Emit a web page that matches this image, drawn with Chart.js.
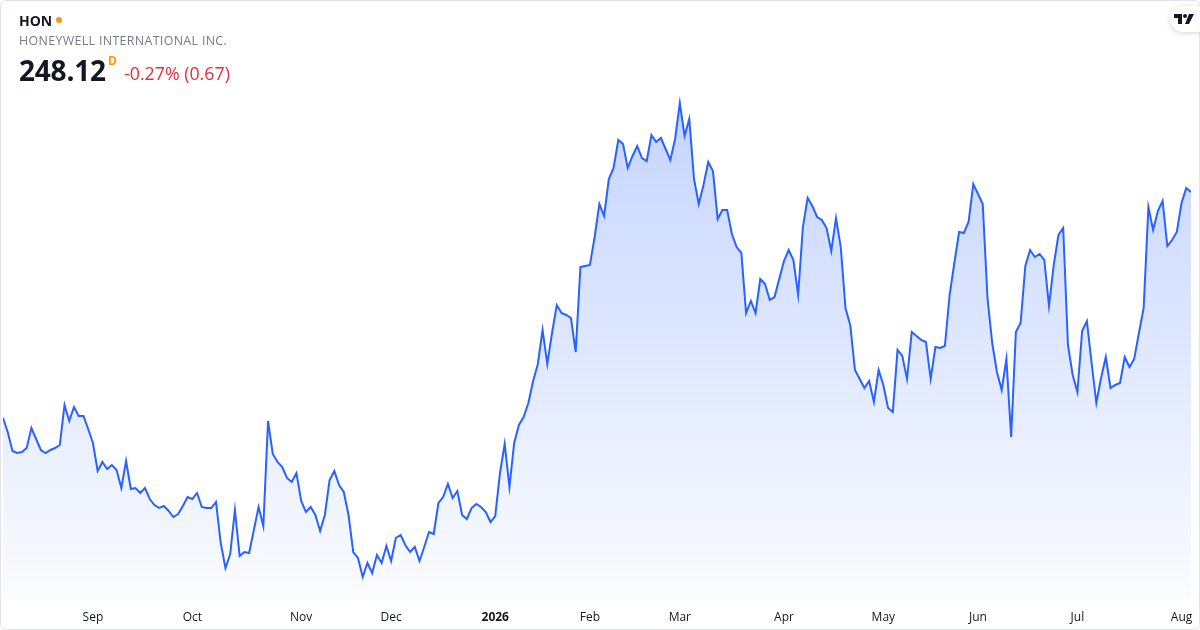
<!DOCTYPE html>
<html>
<head>
<meta charset="utf-8">
<script src="https://cdn.jsdelivr.net/npm/chart.js@4.4.1/dist/chart.umd.min.js"></script>
<style>
  html, body { margin: 0; padding: 0; background: #fff; }
  body { width: 1200px; height: 630px; position: relative; overflow: hidden; font-family: "Open Sans", "Noto Sans", sans-serif; }
  #card { position: absolute; left: 0; top: 0; width: 1198px; height: 628px; border: 1px solid #e0e3eb; border-radius: 6px; }
  #chartWrap { position: absolute; left: 0; top: 0; width: 1200px; height: 630px; overflow: hidden; }
  .sym { position: absolute; left: 19px; top: 11px; font-size: 14px; font-weight: 700; color: #131722; }
  .dot { position: absolute; left: 56px; top: 17px; width: 6px; height: 6px; border-radius: 50%; background: #ff9800; }
  .name { position: absolute; left: 19px; top: 32px; font-size: 12.4px; color: #787b86; letter-spacing: 0.35px; }
  .price { position: absolute; left: 19px; top: 51px; font-size: 28px; font-weight: 700; color: #131722; letter-spacing: -0.2px; }
  .sup { position: absolute; left: 108px; top: 52px; font-size: 12px; font-weight: 700; color: #ff9800; }
  .chg { position: absolute; left: 124px; top: 61px; font-size: 17.8px; color: #e0313f; }
  .logo { position: absolute; right: 0; top: 6px; width: 30px; height: 26px; background: #fff; border-radius: 13px 0 0 13px; box-shadow: 0 1px 5px rgba(0,0,0,0.18); }
</style>
</head>
<body>
<div id="chartWrap"><canvas id="chart" width="1200" height="640"></canvas></div>
<div id="card"></div>
<div class="sym">HON</div>
<div class="dot"></div>
<div class="name">HONEYWELL INTERNATIONAL INC.</div>
<div class="price">248.12</div>
<div class="sup">D</div>
<div class="chg">-0.27% (0.67)</div>
<div class="logo">
  <svg width="30" height="26" viewBox="0 0 30 26">
    <path d="M4 8 H12 V18 H8 V12 H4 Z" fill="#131722"/>
    <circle cx="15" cy="10" r="2" fill="#131722"/>
    <path d="M19 8 H24 L19 18 H15 Z" fill="#131722"/>
  </svg>
</div>
<script>
// Cierres diarios (aprox.), ago 2025 -> ago 2026
const closes = [
  214.22, 212.12, 209.27, 208.97, 209.12, 209.72, 212.72, 211.07, 209.42, 208.97,
  209.42, 209.72, 210.17, 216.17, 213.77, 215.87, 214.52, 214.52, 212.57, 210.47,
  206.27, 207.62, 206.57, 207.17, 206.42, 203.72, 207.77, 203.57, 203.72, 202.97,
  203.72, 202.07, 201.17, 200.72, 201.02, 200.27, 199.37, 199.82, 201.02, 202.37,
  202.07, 202.97, 200.87, 200.72, 200.72, 201.62, 195.47, 191.72, 193.82, 200.42,
  193.52, 194.12, 193.97, 197.42, 200.87, 198.02, 213.77, 208.82, 207.62, 206.87,
  205.22, 204.62, 205.97, 201.77, 200.12, 200.87, 199.67, 197.27, 199.67, 204.92,
  206.27, 204.17, 203.12, 199.67, 194.12, 193.22, 190.37, 192.47, 190.97, 193.67,
  192.47, 195.02, 192.77, 196.22, 196.67, 195.17, 194.12, 194.87, 192.77, 194.87,
  197.12, 196.82, 201.47, 202.37, 204.32, 202.22, 203.27, 199.67, 199.07, 200.72,
  201.32, 200.87, 200.12, 198.62, 199.52, 205.97, 210.32, 203.87, 210.47, 213.17,
  214.37, 216.47, 219.77, 222.32, 227.42, 222.32, 226.97, 231.17, 229.97, 229.67,
  229.22, 224.12, 236.87, 237.02, 237.17, 241.37, 246.32, 244.52, 250.07, 251.72,
  255.92, 255.32, 251.72, 253.52, 255.02, 253.22, 252.77, 256.67, 255.62, 256.22,
  254.57, 252.92, 256.07, 261.47, 256.52, 259.07, 250.07, 246.32, 249.17, 252.62,
  251.27, 244.07, 245.42, 245.42, 241.82, 239.87, 238.97, 229.97, 231.77, 229.97,
  235.07, 234.32, 231.92, 232.37, 235.07, 237.77, 239.42, 237.92, 232.67, 242.87,
  247.22, 246.02, 244.37, 243.92, 242.72, 239.27, 244.22, 239.87, 230.72, 228.17,
  221.42, 220.07, 218.72, 219.77, 216.62, 221.42, 219.17, 215.72, 215.12, 224.42,
  223.52, 220.07, 227.12, 226.52, 225.92, 225.62, 220.07, 224.87, 224.72, 225.02,
  232.67, 237.47, 242.12, 241.97, 243.62, 249.32, 247.82, 246.32, 232.22, 225.47,
  221.12, 218.42, 223.07, 211.37, 227.12, 228.47, 237.02, 239.42, 238.37, 238.82,
  237.92, 231.02, 237.17, 241.67, 242.72, 225.17, 220.67, 218.12, 227.27, 228.77,
  222.47, 216.47, 220.22, 223.37, 218.72, 219.17, 219.47, 223.37, 221.87, 223.07,
  226.97, 230.72, 245.87, 242.42, 245.27, 246.77, 240.02, 240.92, 242.12, 246.47,
  248.72, 248.12
];

// Primer día de cotización de cada mes (índice en closes) y su etiqueta
const monthIdx    = [19, 40, 63, 82, 104, 124, 143, 165, 186, 206, 227, 249];
const monthLabels = ['Sep', 'Oct', 'Nov', 'Dec', '2026', 'Feb', 'Mar', 'Apr', 'May', 'Jun', 'Jul', 'Aug'];

const points = closes.map((v, i) => ({ x: i, y: v }));

const ctx = document.getElementById('chart').getContext('2d');

function areaFill(context) {
    const area = context.chart.chartArea;
    if (!area) return 'rgba(41,98,255,0.1)';
    const g = context.chart.ctx.createLinearGradient(0, area.top, 0, area.bottom);
    g.addColorStop(0, 'rgba(41,98,255,0.28)');
    g.addColorStop(1, 'rgba(41,98,255,0.02)');
    return g;
}

new Chart(ctx, {
    type: 'line',
    data: {
        datasets: [{
            data: points,
            borderColor: '#2962ff',
            borderWidth: 2,
            pointRadius: 0,
            tension: 0,
            fill: 'start',
            backgroundColor: areaFill
        }]
    },
    options: {
        responsive: false,
        animation: false,
        layout: { padding: { left: 3, right: 9, top: 90, bottom: 5.6 } },
        plugins: { legend: { display: false }, tooltip: { enabled: false } },
        scales: {
            x: {
                type: 'linear',
                min: 0,
                max: closes.length - 1,
                grid: { display: false, drawTicks: false },
                border: { display: false },
                afterBuildTicks: (axis) => { axis.ticks = monthIdx.map(v => ({ value: v })); },
                // las etiquetas no tocan los bordes, no hace falta margen extra
                afterFit: (axis) => { axis.paddingLeft = 0; axis.paddingRight = 0; },
                ticks: {
                    autoSkip: false,
                    maxRotation: 0,
                    padding: 10,
                    color: '#131722',
                    font: (c) => ({
                        family: '"Open Sans", "Noto Sans", sans-serif',
                        size: 12,
                        weight: (c.tick && c.tick.value === 104) ? 'bold' : 'normal'
                    }),
                    callback: (v) => {
                        const k = monthIdx.indexOf(v);
                        return k >= 0 ? monthLabels[k] : '';
                    }
                }
            },
            y: {
                display: false,
                min: 186.92,
                max: 263.42
            }
        }
    }
});
</script>
</body>
</html>
